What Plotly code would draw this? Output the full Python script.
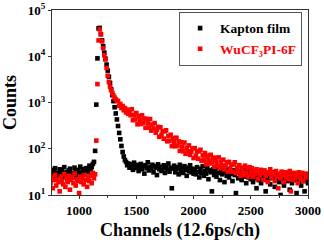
import plotly.graph_objects as go

channels = list(range(750, 3001, 10))

kapton_pre = [28,35,24,31,38,22,30,26,36,29,
              33,25,40,27,31,21,34,37,28,30,
              24,39,32,27,35,30,41,26,33,36,
              29,38,34,31,43,36,40,47,52]
kapton_peak = [90,900,9000,40000,41000,30000,22000,16500,12000,8900,
               6600,4900,3600,2650,1950,1450,1070,790,580,430,
               310,220,160,115,85,68,57]
kapton_tail1 = [52,44,48,39,46,41,35,50,43,38,
                45,33,40,47,36,42,29,44,38,51,
                34,40,37,45,31,42,39,27,46,36,
                41,33,38,44,30,40,35,48,32,39,
                14,37,43,31,36,40,28,45,34,38,
                30,42,35,26,39,33,44,31,37,29]
kapton_tail2 = [35,28,40,31,24,37,30,42,26,33,
                29,38,22,34,31,12,36,27,32,25,
                39,30,21,35,28,33,19,31,26,37,
                24,32,29,20,34,27,11,30,23,33,
                28,21,31,25,35,18,29,24,32,22]
kapton_tail3 = [27,19,30,23,14,26,21,32,18,25,
                22,28,12,24,20,29,17,26,23,31,
                15,25,21,27,19,10,24,28,16,22,
                26,20,30,13,23,18,27,21,25,11,
                24,19,28,16,22,26,12,20,25,18]
kapton = kapton_pre + kapton_peak + kapton_tail1 + kapton_tail2 + kapton_tail3

wu_pre = [18,24,14,21,27,16,22,19,12,25,
          20,17,28,15,23,19,26,13,21,24,
          18,29,16,22,20,11,25,19,23,17,
          27,21,15,24,20,26,18,30,23,28]
wu_peak = [150,2500,22000,38000,30000,21000,15000,10500,8500,5600,
           3800,2800,2200,1850,1600,1420,1280,1170,1080]
wu_decay = [1080,850,930,760,840,680,760,610,700,570,
            650,530,715,415,541,430,592,338,511,420,
            343,528,363,450,284,440,355,285,438,247,
            334,273,358,223,259,297,181,291,199,239,
            165,239,251,145,188,148,201,114,171,140,
            113,173,117,144,90,139,111]
wu_mid = [88,136,78,106,88,118,74,87,102,63,
          103,71,87,61,89,95,55,72,58,81,
          46,71,58,48,74,51,63,41,64,51,
          42,65,38,52,43,58,36,43,51,32,
          52,36,45,32,46,51,30,39,32,44,
          26,39,33,27,43,30,38,25,40]
wu_end = [31,38,25,33,29,36,22,32,27,35,
          30,21,34,26,31,19,29,36,24,30,
          28,20,33,25,14,29,23,32,27,19,
          31,24,28,22,33,12,27,21,30,24,
          29,18,31,25,22,30,20,28,24,29,26]
wucf3 = wu_pre + wu_peak + wu_decay + wu_mid + wu_end

x_ticks = [1000, 1500, 2000, 2500, 3000]
y_ticks = [10, 100, 1000, 10000, 100000]
y_tick_labels = ["<b>10<sup>1</sup></b>", "<b>10<sup>2</sup></b>", "<b>10<sup>3</sup></b>",
                 "<b>10<sup>4</sup></b>", "<b>10<sup>5</sup></b>"]

font_family = "Liberation Serif, Times New Roman, serif"

fig = go.Figure()
fig.add_trace(go.Scatter(
    x=channels, y=kapton, mode="markers",
    name="<b>Kapton film</b>",
    marker=dict(symbol="square", size=4.6, color="black", line=dict(width=0)),
))
fig.add_trace(go.Scatter(
    x=channels, y=wucf3, mode="markers",
    name="<span style='color:#ff0000'><b>WuCF₃PI-6F</b></span>",
    marker=dict(symbol="square", size=4.6, color="#ff0000", line=dict(width=0)),
))

axis_common = dict(
    showline=True, linecolor="#333333", linewidth=1, mirror=True,
    ticks="outside", ticklen=3, tickwidth=1, tickcolor="#333333",
    showgrid=False, zeroline=False, automargin=False,
    tickfont=dict(family=font_family, size=13, color="black"),
)

fig.update_xaxes(
    range=[763, 3000], tickvals=x_ticks, ticktext=["<b>%d</b>" % v for v in x_ticks],
    minor=dict(ticks="outside", ticklen=2, dtick=250, tick0=750, tickcolor="#333333"),
    title=dict(text="<b>Channels (12.6ps/ch)</b>", font=dict(family=font_family, size=18, color="black"), standoff=6),
    **axis_common,
)
fig.update_yaxes(
    type="log", range=[1, 5], tickvals=y_ticks, ticktext=y_tick_labels,
    title=dict(text="<b>Counts</b>", font=dict(family=font_family, size=18, color="black"), standoff=6),
    **axis_common,
)

fig.update_layout(
    width=324, height=245,
    margin=dict(l=52, r=16, t=10, b=50),
    paper_bgcolor="white", plot_bgcolor="white",
    showlegend=True,
    legend=dict(
        x=0.977, y=0.99, xanchor="right", yanchor="top",
        bordercolor="#555555", borderwidth=1, bgcolor="white",
        font=dict(family=font_family, size=13.5, color="black"),
        tracegroupgap=0, itemwidth=30,
    ),
)

fig.write_html("out.html", config={"displayModeBar": False},
               post_script="document.body.style.margin='0';document.body.style.overflow='hidden';")
